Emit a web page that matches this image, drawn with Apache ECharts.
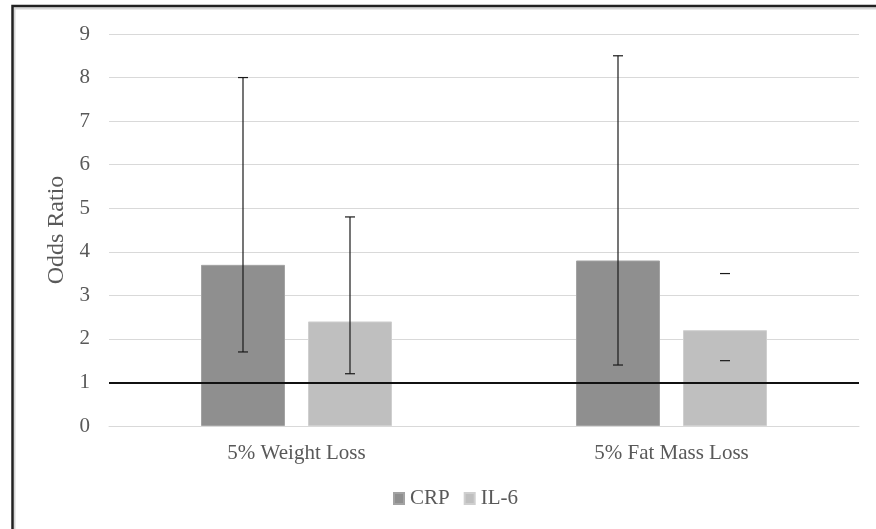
<!DOCTYPE html>
<html>
<head>
<meta charset="utf-8">
<script src="https://cdn.jsdelivr.net/npm/echarts@6/dist/echarts.min.js"></script>
<style>html,body{margin:0;padding:0;background:#fff}#c{width:876px;height:529px}</style>
</head>
<body>
<div id="c"></div>
<script>
var categories = ['5% Weight Loss', '5% Fat Mass Loss'];
var crpValues = [3.7, 3.8];
var il6Values = [2.4, 2.2];
var crpLow = [1.7, 1.4];
var crpHigh = [8.0, 8.5];
var il6Low = [1.2, 1.5];
var il6High = [4.8, 3.5];
var il6Stem = [true, false];
var crpStem = [true, true];
var yTicks = [0, 1, 2, 3, 4, 5, 6, 7, 8, 9];
var refValue = 1;

var FONT = "'Liberation Serif','Times New Roman',serif";
var TXT = '#595959';
var BAR_W = 84, BAR_GAP = 23;

function errSeries(name, low, high, stem, side) {
  return {
    type: 'custom',
    name: name + ' err',
    z: 5,
    silent: true,
    data: categories.map(function (c, i) { return [i, low[i], high[i], stem[i] ? 1 : 0]; }),
    renderItem: function (params, api) {
      var idx = api.value(0);
      var lo = api.coord([idx, api.value(1)]);
      var hi = api.coord([idx, api.value(2)]);
      var x = lo[0] + side * (BAR_W + BAR_GAP) / 2;
      var hw = 5;
      var st = { stroke: '#1a1a1a', lineWidth: 1.2 };
      var children = [
        { type: 'line', shape: { x1: x - hw, y1: lo[1], x2: x + hw, y2: lo[1] }, style: st },
        { type: 'line', shape: { x1: x - hw, y1: hi[1], x2: x + hw, y2: hi[1] }, style: st }
      ];
      if (api.value(3)) {
        children.push({ type: 'line', shape: { x1: x, y1: lo[1], x2: x, y2: hi[1] }, style: st });
      }
      return { type: 'group', children: children };
    }
  };
}

var chart = echarts.init(document.getElementById('c'));
chart.setOption({
  backgroundColor: '#fff',
  animation: false,
  textStyle: { fontFamily: FONT },
  grid: { left: 109, right: 17, top: 34, bottom: 103 },
  legend: {
    data: ['CRP', 'IL-6'],
    bottom: 15,
    left: 388,
    itemWidth: 10,
    itemHeight: 11,
    itemGap: 14,
    icon: 'rect',
    textStyle: { fontFamily: FONT, fontSize: 21, color: TXT, padding: [0, 0, 0, 1] }
  },
  xAxis: {
    type: 'category',
    data: categories,
    axisLine: { show: true, lineStyle: { color: '#d9d9d9', width: 1 } },
    axisTick: { show: false },
    axisLabel: { fontFamily: FONT, fontSize: 21, color: TXT, margin: 17 }
  },
  yAxis: {
    type: 'value',
    min: yTicks[0],
    max: yTicks[yTicks.length - 1],
    interval: 1,
    name: 'Odds Ratio',
    nameLocation: 'middle',
    nameGap: 37,
    nameTextStyle: { fontFamily: FONT, fontSize: 24, color: TXT },
    axisLine: { show: false },
    axisTick: { show: false },
    splitLine: { lineStyle: { color: '#d9d9d9', width: 1 } },
    axisLabel: { fontFamily: FONT, fontSize: 21, color: TXT, margin: 19, padding: [3, 0, 0, 0] }
  },
  series: [
    {
      name: 'CRP', type: 'bar', data: crpValues, barWidth: BAR_W, barGap: (BAR_GAP / BAR_W * 100) + '%',
      itemStyle: { color: '#8f8f8f', borderColor: '#a3a3a3', borderWidth: 1 },
      markLine: {
        silent: true, symbol: 'none', label: { show: false },
        lineStyle: { color: '#111', width: 2, type: 'solid' },
        data: [{ yAxis: refValue }]
      },
      z: 2
    },
    {
      name: 'IL-6', type: 'bar', data: il6Values, barWidth: BAR_W,
      itemStyle: { color: '#bfbfbf', borderColor: '#cfcfcf', borderWidth: 1 },
      z: 2
    },
    errSeries('CRP', crpLow, crpHigh, crpStem, -1),
    errSeries('IL-6', il6Low, il6High, il6Stem, 1)
  ],
  graphic: [
    { type: 'rect', shape: { x: 14.5, y: 8.5, width: 1000, height: 1000 }, style: { fill: 'none', stroke: '#d6d6d6', lineWidth: 2 }, silent: true },
    { type: 'rect', shape: { x: 12.5, y: 6, width: 1000, height: 1000 }, style: { fill: 'none', stroke: '#222', lineWidth: 2.5 }, silent: true }
  ]
});
</script>
</body>
</html>
